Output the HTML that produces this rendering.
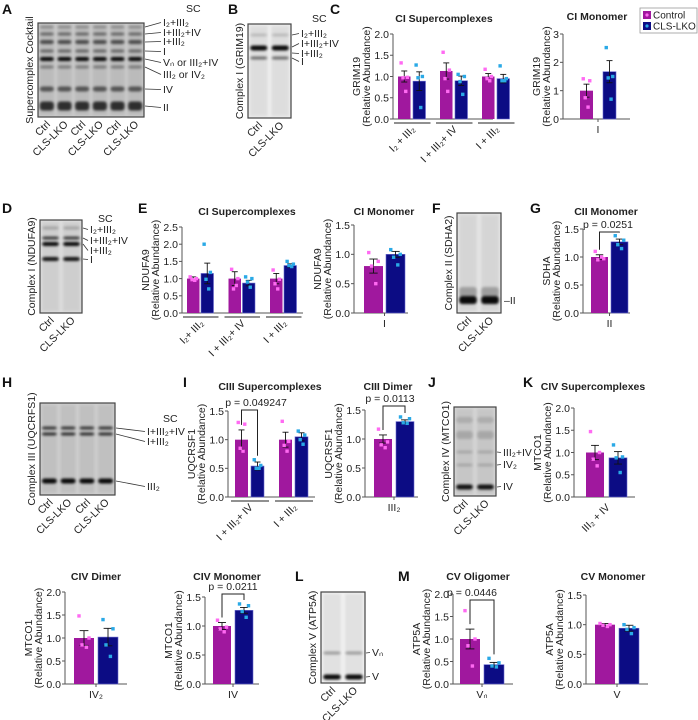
<!DOCTYPE html>
<html><head><meta charset="utf-8"><style>
html,body{margin:0;padding:0;background:#fff;}
svg{display:block;font-family:"Liberation Sans",Arial,sans-serif;}
.t{font-size:10.5px;fill:#222}
.lb{font-size:10px;fill:#222}
.pl{font-size:14px;font-weight:bold;fill:#111}
</style></head><body>
<svg id="fig" width="698" height="720" viewBox="0 0 698 720" xmlns="http://www.w3.org/2000/svg">
<defs><filter id="bl" x="-20%" y="-100%" width="140%" height="300%"><feGaussianBlur stdDeviation="1.4"/></filter>
<filter id="bl2"><feGaussianBlur stdDeviation="3"/></filter></defs>
<text class="pl" x="2" y="14">A</text>
<text class="pl" x="228" y="14">B</text>
<text class="pl" x="330" y="14">C</text>
<text class="pl" x="2" y="213">D</text>
<text class="pl" x="138" y="213">E</text>
<text class="pl" x="432" y="213">F</text>
<text class="pl" x="530" y="213">G</text>
<text class="pl" x="2" y="387">H</text>
<text class="pl" x="183" y="387">I</text>
<text class="pl" x="428" y="387">J</text>
<text class="pl" x="523" y="387">K</text>
<text class="pl" x="295" y="581">L</text>
<text class="pl" x="398" y="581">M</text>
<g>
<rect x="640" y="8" width="57" height="25" fill="#fff" stroke="#999" stroke-width="0.8"/>
<rect x="643" y="11" width="8" height="8" fill="#a0189e"/><circle cx="647" cy="15" r="1.6" fill="#ff6af2"/>
<text class="lb" x="653" y="18.5">Control</text>
<rect x="643" y="22" width="8" height="8" fill="#0c0c84"/><circle cx="647" cy="26" r="1.6" fill="#2aa9e6"/>
<text class="lb" x="653" y="29.5">CLS-LKO</text>
</g>
<g id="blots"></g>
<g id="charts"></g>
</svg>
<script>
// ---------------- DATA ----------------
const cSupCats=["I₂ + III₂","I + III₂+ IV","I + III₂"];
const cSupCtrl=[1.0,1.13,1.0];
const cSupLko=[0.89,0.9,0.95];
const cSupCtrlErr=[0.13,0.19,0.07];
const cSupLkoErr=[0.22,0.11,0.1];
const cSupCtrlPts=[[1.32,0.98,0.97,0.65],[1.57,1.15,0.95,0.65],[1.17,1.0,0.95,0.9]];
const cSupLkoPts=[[1.27,1.0,0.97,0.27],[1.05,1.0,0.88,0.58],[1.25,0.95,0.9,0.9]];
const cMonCats=["I"];
const cMonCtrl=[1.0];const cMonLko=[1.67];
const cMonCtrlErr=[0.23];const cMonLkoErr=[0.39];
const cMonCtrlPts=[[1.42,1.35,0.75,0.42]];const cMonLkoPts=[[2.52,1.5,1.45,0.7]];
const eSupCats=["I₂+ III₂","I + III₂+ IV","I + III₂"];
const eSupCtrl=[1.0,1.0,1.0];const eSupLko=[1.15,0.87,1.38];
const eSupCtrlErr=[0.05,0.2,0.15];const eSupLkoErr=[0.3,0.08,0.05];
const eSupCtrlPts=[[1.05,1.0,0.97,0.95],[1.27,1.0,0.7,0.8],[1.25,0.98,0.85,0.7]];
const eSupLkoPts=[[2.0,1.18,0.98,0.7],[1.05,1.0,0.9,0.75],[1.5,1.42,1.38,1.35]];
const eMonCats=["I"];
const eMonCtrl=[0.8];const eMonLko=[1.0];
const eMonCtrlErr=[0.12];const eMonLkoErr=[0.05];
const eMonCtrlPts=[[1.03,0.88,0.8,0.5]];const eMonLkoPts=[[1.08,1.0,0.95,0.82]];
const gCats=["II"];
const gCtrl=[1.0];const gLko=[1.27];
const gCtrlErr=[0.04];const gLkoErr=[0.05];
const gCtrlPts=[[1.1,0.97,0.95,1.0]];const gLkoPts=[[1.38,1.3,1.22,1.15]];
const iCats=["I + III₂+ IV","I + III₂"];
const iCtrl=[1.0,1.0];const iLko=[0.54,1.05];
const iCtrlErr=[0.17,0.13];const iLkoErr=[0.07,0.07];
const iCtrlPts=[[1.3,1.27,0.85,0.8],[1.32,0.97,0.9,0.8]];
const iLkoPts=[[0.65,0.55,0.5,0.5],[1.15,1.08,1.0,0.92]];
const dimCats=["III₂"];
const dimCtrl=[1.0];const dimLko=[1.3];
const dimCtrlErr=[0.07];const dimLkoErr=[0.03];
const dimCtrlPts=[[1.17,0.95,0.9,0.85]];const dimLkoPts=[[1.38,1.35,1.28,1.27]];
const kCats=["III₂ + IV"];
const kCtrl=[1.0];const kLko=[0.88];
const kCtrlErr=[0.16];const kLkoErr=[0.14];
const kCtrlPts=[[1.47,1.0,0.85,0.7]];const kLkoPts=[[1.17,0.9,0.88,0.55]];
const ivDCats=["IV₂"];
const ivDCtrl=[1.0];const ivDLko=[1.02];
const ivDCtrlErr=[0.16];const ivDLkoErr=[0.19];
const ivDCtrlPts=[[1.48,1.0,0.85,0.8]];const ivDLkoPts=[[1.4,1.2,0.85,0.6]];
const ivMCats=["IV"];
const ivMCtrl=[1.0];const ivMLko=[1.27];
const ivMCtrlErr=[0.06];const ivMLkoErr=[0.05];
const ivMCtrlPts=[[1.1,0.98,0.95,0.9]];const ivMLkoPts=[[1.38,1.35,1.25,1.15]];
const vOCats=["Vₙ"];
const vOCtrl=[1.0];const vOLko=[0.43];
const vOCtrlErr=[0.22];const vOLkoErr=[0.05];
const vOCtrlPts=[[1.63,1.0,0.85,0.4]];const vOLkoPts=[[0.57,0.47,0.4,0.38]];
const vMCats=["V"];
const vMCtrl=[1.0];const vMLko=[0.94];
const vMCtrlErr=[0.02];const vMLkoErr=[0.05];
const vMCtrlPts=[[1.02,1.0,0.99,0.97]];const vMLkoPts=[[1.0,0.95,0.92,0.85]];
const ticks15=[0,0.5,1,1.5];const tickLab15=["0.0","0.5","1.0","1.5"];
const ticks20=[0,0.5,1,1.5,2];const tickLab20=["0.0","0.5","1.0","1.5","2.0"];
const ticks25=[0,0.5,1,1.5,2,2.5];const tickLab25=["0.0","0.5","1.0","1.5","2.0","2.5"];
const ticks3=[0,1,2,3];const tickLab3=["0","1","2","3"];

// ---------------- DRAW ----------------
const NS="http://www.w3.org/2000/svg";
const svg=document.getElementById('fig');
function mk(tag,attrs,parent){const e=document.createElementNS(NS,tag);for(const k in attrs)e.setAttribute(k,attrs[k]);(parent||svg).appendChild(e);return e;}
function txt(parent,x,y,s,cls,extra){const e=mk('text',Object.assign({x:x,y:y,class:cls||'t'},extra||{}),parent);e.textContent=s;return e;}

function chart(c){
  const g=mk('g',{},document.getElementById('charts'));
  
  
  const y=v=>c.y0-(v/c.max)*(c.y0-c.yTop);
  const axc='#555';
  const ya=mk('line',{x1:c.ax,y1:c.yTop,x2:c.ax,y2:c.y0,stroke:axc,'stroke-width':1},g);
  
  
  const xa=mk('line',{x1:c.ax,y1:c.y0,x2:c.xEnd,y2:c.y0,stroke:axc,'stroke-width':1},g);
  
  
  let maxW=0;
  c.ticks.forEach((t,i)=>{
    mk('line',{x1:c.ax-3,y1:y(t),x2:c.ax,y2:y(t),stroke:axc},g);
    const tl=txt(g,c.ax-4,y(t)+3.8,c.tickLabels[i],'t',{'text-anchor':'end'});
    
    
    maxW=Math.max(maxW,c.tickLabels[i].length);
  });
  const off=maxW>1?0:-10;
  const mid=(c.y0+c.yTop)/2;
  const yl1=txt(g,0,0,c.ylab,'t',{'text-anchor':'middle',transform:`translate(${c.ax-33-off},${mid}) rotate(-90)`});
  
  
  const yl2=txt(g,0,0,'(Relative Abundance)','t',{'text-anchor':'middle',transform:`translate(${c.ax-23-off},${mid}) rotate(-90)`});
  
  
  const tt=txt(g,c.tx,c.ty,c.title,'t',{'text-anchor':'middle','font-weight':'bold','font-size':'10px'});
  
  
  const offs=[-0.25,0.25,-0.1,0.12];
  c.cats.forEach((cat,i)=>{
    const xc=c.g0+i*(c.gs||0), xl=xc+c.bw+c.gap;
    [[xc,c.ctrl[i],c.ctrlErr[i],c.ctrlPts[i],'#a0189e','#ff6af2','bar-control'],[xl,c.lko[i],c.lkoErr[i],c.lkoPts[i],'#0c0c84','#2aa9e6','bar-cls-lko']].forEach(b=>{
      const r=mk('rect',{x:b[0],y:y(b[1]),width:c.bw,height:c.y0-y(b[1]),fill:b[4],stroke:'#6a6ad0','stroke-width':b[4]=='#0c0c84'?0.6:0},g);
      
      
      const cx=b[0]+c.bw/2, cap=Math.max(3,c.bw*0.22);
      mk('line',{x1:cx,y1:y(b[1]-b[2]),x2:cx,y2:y(b[1]+b[2]),stroke:'#111','stroke-width':0.9},g);
      mk('line',{x1:cx-cap,y1:y(b[1]+b[2]),x2:cx+cap,y2:y(b[1]+b[2]),stroke:'#111','stroke-width':0.9},g);
      mk('line',{x1:cx-cap,y1:y(b[1]-b[2]),x2:cx+cap,y2:y(b[1]-b[2]),stroke:'#111','stroke-width':0.9},g);
      b[3].forEach((p,k)=>{
        const d=mk('rect',{x:cx+offs[k]*c.bw-1.7,y:y(p)-1.7,width:3.4,height:3.4,fill:b[5]},g);
        
        
      });
    });
    const gc=xc+c.bw+c.gap/2;
    if(c.rot){
      const l=txt(g,0,0,cat,'t',{'text-anchor':'end',transform:`translate(${gc+4},${c.y0+11}) rotate(-45)`});
      
      
    } else {
      mk('line',{x1:gc,y1:c.y0,x2:gc,y2:c.y0+3,stroke:axc},g);
      const l=txt(g,gc,c.y0+14,cat,'t',{'text-anchor':'middle'});
      
      
    }
    if(c.under){
      mk('line',{x1:xc-4,y1:c.y0+4,x2:xl+c.bw+5,y2:c.y0+4,stroke:'#222','stroke-width':1},g);
    }
  });
  if(c.p){
    const x1=c.g0+c.bw/2, x2=c.g0+c.bw+c.gap+c.bw/2;
    const t1=y(c.ctrl[0]+c.ctrlErr[0])-5, t2=y(Math.max(...c.lkoPts[0],c.lko[0]+c.lkoErr[0]))-4;
    mk('polyline',{points:`${x1},${t1} ${x1},${c.by} ${x2},${c.by} ${x2},${t2}`,fill:'none',stroke:'#222','stroke-width':1},g);
    const pt=txt(g,c.px,c.py,c.p,'t',{'text-anchor':'middle'});
    
    
  }
}

chart({name:'ci-supercomplexes-chart',ax:393,y0:119,yTop:34,max:2,ticks:ticks20,tickLabels:tickLab20,xEnd:493,g0:398,gs:42,bw:12.5,gap:2.5,rot:true,under:true,title:'CI Supercomplexes',tx:444,ty:22,ylab:'GRIM19',cats:cSupCats,ctrl:cSupCtrl,lko:cSupLko,ctrlErr:cSupCtrlErr,lkoErr:cSupLkoErr,ctrlPts:cSupCtrlPts,lkoPts:cSupLkoPts});
chart({name:'ci-monomer-chart',ax:563,y0:119,yTop:34,max:3,ticks:ticks3,tickLabels:tickLab3,xEnd:630,g0:580,bw:13,gap:10,title:'CI Monomer',tx:597,ty:20,ylab:'GRIM19',cats:cMonCats,ctrl:cMonCtrl,lko:cMonLko,ctrlErr:cMonCtrlErr,lkoErr:cMonLkoErr,ctrlPts:cMonCtrlPts,lkoPts:cMonLkoPts});
chart({name:'ci-supercomplexes-ndufa9-chart',ax:182,y0:313,yTop:227,max:2.5,ticks:ticks25,tickLabels:tickLab25,xEnd:303,g0:187,gs:41.5,bw:12.5,gap:1.5,rot:true,under:true,title:'CI Supercomplexes',tx:247,ty:215,ylab:'NDUFA9',cats:eSupCats,ctrl:eSupCtrl,lko:eSupLko,ctrlErr:eSupCtrlErr,lkoErr:eSupLkoErr,ctrlPts:eSupCtrlPts,lkoPts:eSupLkoPts});
chart({name:'ci-monomer-ndufa9-chart',ax:354,y0:313,yTop:225,max:1.5,ticks:ticks15,tickLabels:tickLab15,xEnd:408,g0:364,bw:19,gap:3,title:'CI Monomer',tx:384,ty:215,ylab:'NDUFA9',cats:eMonCats,ctrl:eMonCtrl,lko:eMonLko,ctrlErr:eMonCtrlErr,lkoErr:eMonLkoErr,ctrlPts:eMonCtrlPts,lkoPts:eMonLkoPts});
chart({name:'cii-monomer-chart',ax:583,y0:313,yTop:229,max:1.5,ticks:ticks15,tickLabels:tickLab15,xEnd:630,g0:591,bw:17,gap:3,title:'CII Monomer',tx:606,ty:215,ylab:'SDHA',p:'p = 0.0251',px:608,py:228,by:232,cats:gCats,ctrl:gCtrl,lko:gLko,ctrlErr:gCtrlErr,lkoErr:gLkoErr,ctrlPts:gCtrlPts,lkoPts:gLkoPts});
chart({name:'ciii-supercomplexes-chart',ax:228,y0:497,yTop:411,max:1.5,ticks:ticks15,tickLabels:tickLab15,xEnd:315,g0:235,gs:44,bw:13,gap:3,rot:true,under:true,title:'CIII Supercomplexes',tx:270,ty:390,ylab:'UQCRSF1',p:'p = 0.049247',px:256,py:406,by:410,cats:iCats,ctrl:iCtrl,lko:iLko,ctrlErr:iCtrlErr,lkoErr:iLkoErr,ctrlPts:iCtrlPts,lkoPts:iLkoPts});
chart({name:'ciii-dimer-chart',ax:365,y0:497,yTop:410,max:1.5,ticks:ticks15,tickLabels:tickLab15,xEnd:418,g0:374,bw:18,gap:4,title:'CIII Dimer',tx:388,ty:390,ylab:'UQCRSF1',p:'p = 0.0113',px:390,py:402,by:406,cats:dimCats,ctrl:dimCtrl,lko:dimLko,ctrlErr:dimCtrlErr,lkoErr:dimLkoErr,ctrlPts:dimCtrlPts,lkoPts:dimLkoPts});
chart({name:'civ-supercomplexes-chart',ax:574,y0:497,yTop:408,max:2,ticks:ticks20,tickLabels:tickLab20,xEnd:635,g0:586,bw:18,gap:5,rot:true,title:'CIV  Supercomplexes',tx:593,ty:390,ylab:'MTCO1',cats:kCats,ctrl:kCtrl,lko:kLko,ctrlErr:kCtrlErr,lkoErr:kLkoErr,ctrlPts:kCtrlPts,lkoPts:kLkoPts});
chart({name:'civ-dimer-chart',ax:65,y0:684,yTop:592,max:2,ticks:ticks20,tickLabels:tickLab20,xEnd:127,g0:74,bw:20,gap:4,title:'CIV Dimer',tx:96,ty:580,ylab:'MTCO1',cats:ivDCats,ctrl:ivDCtrl,lko:ivDLko,ctrlErr:ivDCtrlErr,lkoErr:ivDLkoErr,ctrlPts:ivDCtrlPts,lkoPts:ivDLkoPts});
chart({name:'civ-monomer-chart',ax:205,y0:684,yTop:597,max:1.5,ticks:ticks15,tickLabels:tickLab15,xEnd:259,g0:213,bw:18,gap:4,title:'CIV Monomer',tx:227,ty:580,ylab:'MTCO1',p:'p = 0.0211',px:233,py:590,by:594,cats:ivMCats,ctrl:ivMCtrl,lko:ivMLko,ctrlErr:ivMCtrlErr,lkoErr:ivMLkoErr,ctrlPts:ivMCtrlPts,lkoPts:ivMLkoPts});
chart({name:'cv-oligomer-chart',ax:453,y0:684,yTop:594,max:2,ticks:ticks20,tickLabels:tickLab20,xEnd:513,g0:460,bw:20,gap:4,title:'CV Oligomer',tx:478,ty:580,ylab:'ATP5A',p:'p = 0.0446',px:472,py:596,by:600,cats:vOCats,ctrl:vOCtrl,lko:vOLko,ctrlErr:vOCtrlErr,lkoErr:vOLkoErr,ctrlPts:vOCtrlPts,lkoPts:vOLkoPts});
chart({name:'cv-monomer-chart',ax:586,y0:684,yTop:595,max:1.5,ticks:ticks15,tickLabels:tickLab15,xEnd:648,g0:595,bw:20,gap:4,title:'CV Monomer',tx:613,ty:580,ylab:'ATP5A',cats:vMCats,ctrl:vMCtrl,lko:vMLko,ctrlErr:vMCtrlErr,lkoErr:vMLkoErr,ctrlPts:vMCtrlPts,lkoPts:vMLkoPts});

// ---------------- BLOTS ----------------
function blot(name,x,y,w,h,lanes,bg,bands,vlabel,laneLabels,labels){
  const g=mk('g',{},document.getElementById('blots'));
  
  
  mk('rect',{x:x,y:y,width:w,height:h,fill:bg},g);
  const lw=w/lanes;
  for(let l=0;l<lanes;l++){
    const lx=x+l*lw+lw*0.1, ww=lw*0.8;
    mk('rect',{x:lx,y:y+2,width:ww,height:h-4,fill:'#000',opacity:0.06,filter:'url(#bl)'},g);
    bands.forEach(b=>{
      mk('rect',{x:lx,y:b[0]-b[2]/2,width:ww,height:b[2],rx:3,fill:'#000',opacity:b[1],filter:'url(#bl)'},g);
    });
  }
  mk('rect',{x:x,y:y,width:w,height:h,fill:'none',stroke:'#444','stroke-width':1.2},g);
  txt(g,0,0,vlabel,'t',{'text-anchor':'middle',transform:`translate(${x-5},${y+h/2}) rotate(-90)`});
  laneLabels.forEach((s,i)=>{
    const l=txt(g,0,0,s,'t',{'text-anchor':'end',transform:`translate(${x+lw*(i+0.5)+4},${y+h+8}) rotate(-45)`});
    
    
  });
  labels.forEach(L=>{
    if(L[3]!==undefined) mk('line',{x1:x+w+1,y1:L[3],x2:L[0]-2,y2:L[1]-3.5,stroke:'#333','stroke-width':0.8},g);
    const t=txt(g,L[0],L[1],L[2],'t',L[4]?{fill:L[4]}:{});
    
    
  });
}
const L6=['Ctrl','CLS-LKO','Ctrl','CLS-LKO','Ctrl','CLS-LKO'];
blot('blot-a-supercomplex',38,23,106,94,6,'#c8c8c8',[[27,0.25,3],[34,0.45,3],[42,0.6,4],[51,0.45,3],[59,0.95,4],[67,0.35,3],[89,0.55,5],[106,0.75,9]],'Supercomplex Cocktail',L6,
 [[186,12,'SC'],[163,26,'I₂+III₂',27],[163,36,'I+III₂+IV',34,'#e02020'],[163,45,'I+III₂',42],[163,55,'I',51],[163,66,'Vₙ or III₂+IV',59],[163,78,'III₂ or IV₂',67],[163,93,'IV',89],[163,111,'II',106]]);
blot('blot-b-grim19',248,24,43,94,2,'#ececec',[[35,0.15,3],[48,0.95,5],[58,0.5,3]],'Complex I (GRIM19)',['Ctrl','CLS-LKO'],
 [[312,22,'SC'],[301,37,'I₂+III₂',35],[301,47,'I+III₂+IV',47],[301,57,'I+III₂',53],[301,65,'I',58]]);
blot('blot-d-ndufa9',40,220,42,93,2,'#dcdcdc',[[228,0.2,3],[238,0.7,3],[244,0.95,4],[259,0.9,4]],'Complex I (NDUFA9)',['Ctrl','CLS-LKO'],
 [[98,222,'SC'],[90,233,'I₂+III₂',228],[90,244,'I+III₂+IV',238],[90,254,'I+III₂',244],[90,263,'I',259]]);
blot('blot-f-sdha',457,213,44,100,2,'#e4e4e4',[[300,0.95,8],[292,0.25,10]],'Complex II (SDHA2)',['Ctrl','CLS-LKO'],
 [[504,304,'–II']]);
blot('blot-h-uqcrfs1',40,403,75,92,4,'#cdcdcd',[[428,0.7,3],[434,0.75,3],[481,0.95,5]],'Complex III (UQCRFS1)',['Ctrl','CLS-LKO','Ctrl','CLS-LKO'],
 [[163,422,'SC'],[147,435,'I+III₂+IV',428],[147,445,'I+III₂',434],[147,490,'III₂',481]]);
blot('blot-j-mtco1',454,407,42,89,2,'#d4d4d4',[[420,0.12,6],[435,0.15,8],[452,0.15,3],[465,0.15,3],[487,0.9,5]],'Complex IV (MTCO1)',['Ctrl','CLS-LKO'],
 [[503,456,'III₂+IV',452],[503,468,'IV₂',465],[503,490,'IV',487]]);
blot('blot-l-atp5a',321,592,44,91,2,'#f0f0f0',[[653,0.3,3],[677,0.95,5]],'Complex V (ATP5A)',['Ctrl','CLS-LKO'],
 [[372,656,'Vₙ',653],[372,680,'V',677]]);
</script>
</body></html>
